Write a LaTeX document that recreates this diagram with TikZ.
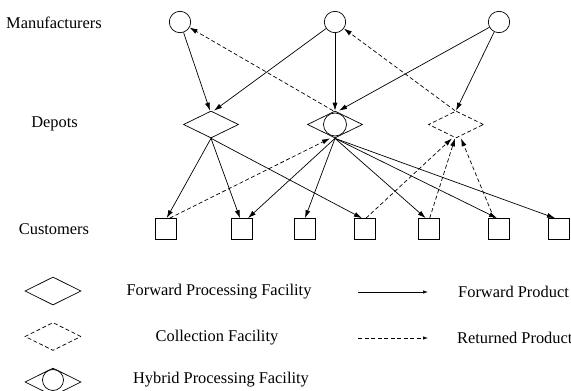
\documentclass[tikz,border=0pt]{standalone}
\usepackage{fontspec}
\setmainfont{Liberation Serif}
\usetikzlibrary{arrows.meta, shapes.geometric}

\begin{document}
\begin{tikzpicture}[x=1pt, y=-1pt,
    every node/.style={font=\fontsize{16.4}{19}\selectfont},
    fwd/.style={-{Latex[length=8pt,width=5pt]}, line width=0.7pt},
    ret/.style={fwd, dash pattern=on 4pt off 2.5pt},
    plant/.style={draw, circle, minimum size=21.4pt, inner sep=0pt, line width=0.7pt},
    depot/.style={draw, diamond, minimum width=55pt, minimum height=27pt, inner sep=0pt, line width=0.7pt},
    collect/.style={depot, dash pattern=on 4pt off 2.5pt},
    hub/.style={draw, circle, minimum size=23pt, inner sep=0pt, line width=0.7pt},
    cust/.style={draw, rectangle, minimum size=21pt, inner sep=0pt, line width=0.7pt}
]
\useasboundingbox (0,0) rectangle (571,391);

% ============ LEVEL LABELS ============
\node (lman) at (54,23) {Manufacturers};
\node (ldep) at (54.5,124) {Depots};
\node (lcus) at (54,229) {Customers};

% ============ MANUFACTURERS ============
\node[plant] (m1) at (180,22) {};
\node[plant] (m2) at (335,22) {};
\node[plant] (m3) at (499,22) {};

% ============ DEPOTS ============
\node[depot] (d1) at (211,124.5) {};
\node[depot] (d2) at (335,124.5) {};
\node[hub] (d2c) at (335,124.5) {};
\node[collect] (d3) at (456,124.5) {};

% ============ CUSTOMERS ============
\node[cust] (c1) at (165.7,229) {};
\node[cust] (c2) at (241.5,229) {};
\node[cust] (c3) at (305,229) {};
\node[cust] (c4) at (365,229) {};
\node[cust] (c5) at (428.7,229) {};
\node[cust] (c6) at (499,229) {};
\node[cust] (c7) at (558.5,229) {};

% Manufacturers to depots
\draw[fwd] (m1) -- ([xshift=-1pt]d1.north);
\draw[fwd] (m2) -- ([xshift=3pt]d1.north);
\draw[fwd] (m2) -- (d2.north);
\draw[fwd] (m3) -- ([xshift=4pt]d2.north);
\draw[fwd] (m3) -- (d3.north);
\draw[ret] ([xshift=-2pt]d2.north) -- (m1);
\draw[ret] ([xshift=-1pt]d3.north) -- (m2);

% Depots to customers
\draw[fwd] (d1.south) -- ([xshift=1pt]c1.north);
\draw[fwd] (d1.south) -- ([xshift=-1.5pt]c2.north);
\draw[fwd] (d1.south) -- ([xshift=-3pt]c4.north);
\draw[fwd] (d2.south) -- ([xshift=6.5pt]c2.north);
\draw[fwd] (d2.south) -- (c3.north);
\draw[fwd] (d2.south) -- ([xshift=-3pt]c5.north);
\draw[fwd] (d2.south) -- ([xshift=-2pt]c6.north);
\draw[fwd] (d2.south) -- ([xshift=-3.5pt]c7.north);

% Returns from customers
\draw[ret] ([xshift=4pt]c1.north) -- ([xshift=-5pt]d2.south);
\draw[ret] ([xshift=1pt]c4.north) -- ([xshift=-4pt]d3.south);
\draw[ret] ([xshift=1pt]c5.north) -- ([xshift=-1pt]d3.south);
\draw[ret] ([xshift=-5pt]c6.north) -- ([xshift=5pt]d3.south);

% ============ LEGEND ============
\node[depot, minimum width=56pt, minimum height=28pt] (kfwd) at (53,291) {};
\node[collect, minimum width=56pt, minimum height=28pt] (kcol) at (53,336.5) {};
\node[depot, minimum width=56pt, minimum height=28pt] (khyb) at (53,382) {};
\node[hub, minimum size=21pt] (khybc) at (53,380) {};

\node (tfwd) at (219,292) {Forward Processing Facility};
\node (tcol) at (217,338) {Collection Facility};
\node (thyb) at (221,380) {Hybrid Processing Facility};

\coordinate (af1) at (358,292);
\coordinate (af2) at (428,292);
\coordinate (ar1) at (358,338);
\coordinate (ar2) at (428,338);
\draw[fwd, -{Latex[length=5pt,width=3.5pt]}] (af1) -- (af2);
\draw[ret, -{Latex[length=5pt,width=3.5pt]}] (ar1) -- (ar2);
\node[anchor=west, inner sep=0pt] (tfp) at (458,292) {Forward Product};
\node[anchor=west, inner sep=0pt] (trp) at (457,338) {Returned Product};

\end{tikzpicture}
\end{document}
